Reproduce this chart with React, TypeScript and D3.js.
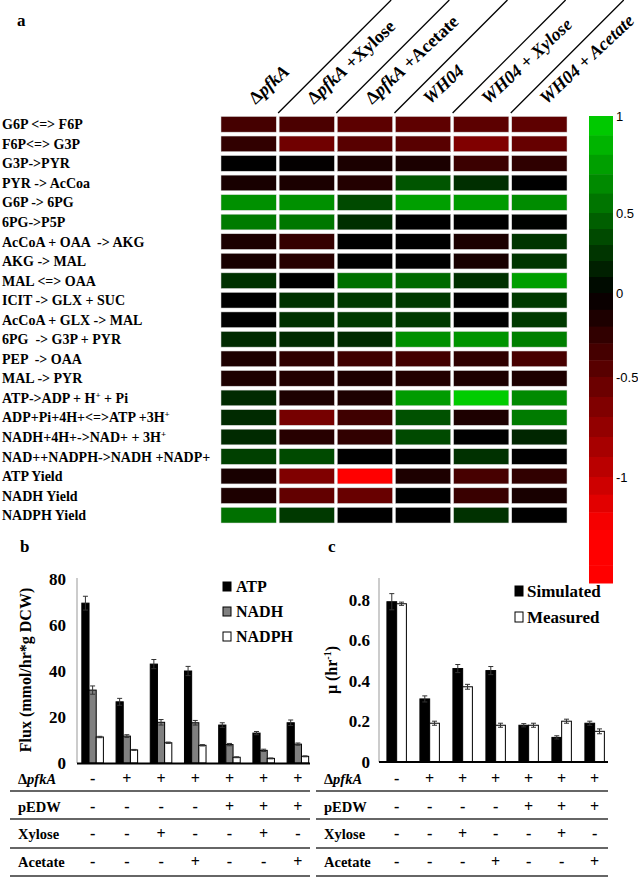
import * as d3 from 'd3';
import React from 'react';

const reactions = [
  'G6P <=> F6P',
  'F6P<=> G3P',
  'G3P->PYR',
  'PYR -> AcCoa',
  'G6P -> 6PG',
  '6PG->P5P',
  'AcCoA + OAA  -> AKG',
  'AKG -> MAL',
  'MAL <=> OAA',
  'ICIT -> GLX + SUC',
  'AcCoA + GLX -> MAL',
  '6PG  -> G3P + PYR',
  'PEP  -> OAA',
  'MAL -> PYR',
  'ATP->ADP + H⁺ + Pi',
  'ADP+Pi+4H+<=>ATP +3H⁺',
  'NADH+4H+->NAD+ + 3H⁺',
  'NAD++NADPH->NADH +NADP+',
  'ATP Yield',
  'NADH Yield',
  'NADPH Yield',
];

const conditions = ['ΔpfkA', 'ΔpfkA +Xylose', 'ΔpfkA +Acetate', 'WH04', 'WH04 + Xylose', 'WH04 + Acetate'];

// one row per reaction, one value per condition
const fluxChange = [
  [-0.35, -0.38, -0.47, -0.48, -0.47, -0.48],
  [-0.25, -0.57, -0.45, -0.45, -0.65, -0.52],
  [0, -0.02, -0.14, -0.14, -0.3, -0.24],
  [-0.12, -0.14, -0.18, 0.4, 0.22, 0],
  [0.68, 0.68, 0.35, 0.75, 0.73, 0.66],
  [0.58, 0.56, 0.22, 0, 0, 0.01],
  [-0.14, -0.27, 0, 0, -0.14, 0.25],
  [-0.12, -0.2, 0, 0, -0.12, 0.25],
  [0.23, 0, 0.53, 0.5, 0.23, 0.75],
  [0, 0.23, 0.27, 0.27, 0, 0.27],
  [0, 0.23, 0.27, 0.27, 0, 0.27],
  [0.2, 0.2, 0.2, 0.68, 0.7, 0.6],
  [-0.15, -0.24, -0.32, -0.34, -0.24, -0.36],
  [-0.15, -0.17, -0.15, -0.17, -0.15, -0.15],
  [0.2, -0.15, -0.15, 0.73, 0.96, 0.65],
  [0.2, -0.6, -0.32, 0.38, -0.15, 0.58],
  [0.2, -0.2, -0.25, 0.35, 0, 0.18],
  [0.3, 0.35, 0, 0, 0.23, 0],
  [-0.12, -0.65, -1.3, -0.15, -0.36, -0.25],
  [-0.15, -0.5, -0.53, 0, -0.29, -0.12],
  [0.53, 0.27, 0, 0, 0.23, 0],
];

const colorbarTicks = [1, 0.5, 0, -0.5, -1];

const strains = ['1', '2', '3', '4', '5', '6', '7'];

const atpFlux = [69.5, 26.6, 43, 40, 16.5, 13, 17.5];
const atpErr = [3, 1.5, 2, 2, 1, 0.7, 1.2];
const nadhFlux = [31.7, 11.7, 17.7, 17.5, 8, 5.5, 8.2];
const nadhErr = [1.8, 0.6, 1.2, 1, 0.5, 0.5, 0.5];
const nadphFlux = [11.3, 5.7, 8.8, 7.7, 2.5, 2, 2.9];
const nadphErr = [0.3, 0.2, 0.3, 0.3, 0.2, 0.2, 0.2];

const simulatedMu = [0.79, 0.31, 0.46, 0.45, 0.18, 0.12, 0.19];
const simulatedErr = [0.04, 0.015, 0.02, 0.02, 0.008, 0.008, 0.01];
const measuredMu = [0.78, 0.19, 0.37, 0.18, 0.18, 0.2, 0.15];
const measuredErr = [0.008, 0.01, 0.012, 0.01, 0.01, 0.01, 0.012];

const fluxTicks = [0, 20, 40, 60, 80];
const muTicks = [0, 0.2, 0.4, 0.6, 0.8];

const designRows = ['ΔpfkA', 'pEDW', 'Xylose', 'Acetate'];
const pfkASigns = ['-', '+', '+', '+', '+', '+', '+'];
const pEDWSigns = ['-', '-', '-', '-', '+', '+', '+'];
const xyloseSigns = ['-', '-', '+', '-', '-', '+', '-'];
const acetateSigns = ['-', '-', '-', '+', '-', '-', '+'];
const designSigns = [pfkASigns, pEDWSigns, xyloseSigns, acetateSigns];

const serif = '"Liberation Serif", "Times New Roman", serif';
const sans = '"Liberation Sans", Arial, sans-serif';

const heatColor = d3
  .scaleLinear<string>()
  .domain([-1.3, 0, 1])
  .range(['#ff0000', '#000000', '#00d400'])
  .clamp(true);

// splits on the superscript plus and raises it
const SupText = ({ text }) => {
  const parts = text.split('⁺');
  return (
    <>
      {parts.map((p, i) => (
        <React.Fragment key={i}>
          {p !== '' && <tspan dy={i > 0 ? 5 : 0}>{p}</tspan>}
          {i < parts.length - 1 && (
            <tspan fontSize={9} dy={-5}>
              +
            </tspan>
          )}
        </React.Fragment>
      ))}
    </>
  );
};

const ConditionLabel = ({ text }) => {
  if (text.startsWith('Δ')) {
    return (
      <>
        <tspan>Δ</tspan>
        <tspan fontStyle="italic">pfkA</tspan>
        <tspan>{text.slice(5)}</tspan>
      </>
    );
  }
  return <tspan fontStyle="italic">{text}</tspan>;
};

const StrainLabel = ({ text }) =>
  text === 'ΔpfkA' ? (
    <>
      <tspan>Δ</tspan>
      <tspan fontStyle="italic">pfkA</tspan>
    </>
  ) : (
    <tspan>{text}</tspan>
  );

const ErrorBar = ({ x, y0, y1, cap = 2.5 }) => (
  <g stroke="#333" strokeWidth={1}>
    <line x1={x} x2={x} y1={y0} y2={y1} />
    <line x1={x - cap} x2={x + cap} y1={y0} y2={y0} />
    <line x1={x - cap} x2={x + cap} y1={y1} y2={y1} />
  </g>
);

const DesignTable = ({ xScale, left, right }) => {
  const rowBase = [784, 812, 839, 867];
  const lineY = [791, 819, 848, 876];
  return (
    <g fontFamily={serif} fontWeight="bold">
      {designRows.map((r, i) => (
        <g key={r}>
          <text x={left + 8} y={rowBase[i]} fontSize={14.5}>
            <StrainLabel text={r} />
          </text>
          {designSigns[i].map((s, j) => (
            <text key={j} x={xScale(strains[j]) + xScale.bandwidth() / 2} y={rowBase[i]} fontSize={16} textAnchor="middle">
              {s}
            </text>
          ))}
          <line x1={left} x2={right} y1={lineY[i]} y2={lineY[i]} stroke="#333" strokeWidth={1.5} />
        </g>
      ))}
    </g>
  );
};

const App = () => {
  // ---------- panel a: heatmap ----------
  const xHeat = d3.scaleBand().domain(conditions).range([221, 567]).paddingInner(0.05);
  const yHeat = d3.scaleBand().domain(reactions).range([116.5, 523]).paddingInner(0.2);
  const yBar = d3.scaleLinear().domain([1, 0.5, 0, -0.5, -1, -1.6]).range([116, 213, 293, 377, 477, 583]);
  const barBands = d3.range(1, -1.6, -0.1);

  // ---------- panel b ----------
  const xB = d3.scaleBand().domain(strains).range([75, 315.5]).paddingInner(0.37).paddingOuter(0.2);
  const subB = d3.scaleBand().domain(['ATP', 'NADH', 'NADPH']).range([0, xB.bandwidth()]);
  const yB = d3.scaleLinear().domain([0, 80]).range([763, 579]);
  const seriesB = [
    { key: 'ATP', values: atpFlux, err: atpErr, fill: '#000' },
    { key: 'NADH', values: nadhFlux, err: nadhErr, fill: '#808080' },
    { key: 'NADPH', values: nadphFlux, err: nadphErr, fill: '#fff' },
  ];

  // ---------- panel c ----------
  const xC = d3.scaleBand().domain(strains).range([380, 611.3]).paddingInner(0.41).paddingOuter(0.21);
  const subC = d3.scaleBand().domain(['Simulated', 'Measured']).range([0, xC.bandwidth()]);
  const yC = d3.scaleLinear().domain([0, 0.8]).range([761.7, 599.7]);
  const seriesC = [
    { key: 'Simulated', values: simulatedMu, err: simulatedErr, fill: '#000' },
    { key: 'Measured', values: measuredMu, err: measuredErr, fill: '#fff' },
  ];

  return (
    <svg width={638} height={878} style={{ position: 'absolute', left: 0, top: 0, background: '#fff' }}>
      <text x={17} y={26} fontFamily={serif} fontWeight="bold" fontSize={17}>
        a
      </text>

      {/* column headers and diagonal separators */}
      {conditions.map((c) => {
        const cx = xHeat(c) + xHeat.bandwidth() / 2 + 7;
        return (
          <text key={c} transform={`translate(${cx},105) rotate(-43)`} fontFamily={serif} fontWeight="bold" fontSize={18}>
            <ConditionLabel text={c} />
          </text>
        );
      })}
      {conditions.slice(1).map((c) => {
        const x0 = xHeat(c) - 1;
        return <line key={c} x1={x0} y1={113} x2={x0 + 113} y2={0} stroke="#000" strokeWidth={1.3} />;
      })}

      {/* row labels */}
      {reactions.map((r) => (
        <text key={r} x={2} y={yHeat(r) + yHeat.bandwidth() / 2 + 5} fontFamily={serif} fontWeight="bold" fontSize={14} style={{ whiteSpace: 'pre' }}>
          <SupText text={r} />
        </text>
      ))}

      {/* cells */}
      {reactions.map((r, i) =>
        conditions.map((c, j) => (
          <rect
            key={`${i}-${j}`}
            x={xHeat(c)}
            y={yHeat(r)}
            width={xHeat.bandwidth()}
            height={yHeat.bandwidth()}
            fill={heatColor(fluxChange[i][j])}
            stroke="#d8d8d8"
            strokeWidth={0.5}
          />
        ))
      )}

      {/* colorbar */}
      {barBands.map((v, i) => {
        const top = yBar(v);
        const bottom = yBar(Math.max(v - 0.1, -1.6));
        return <rect key={i} x={589} y={top} width={24} height={bottom - top + 0.5} fill={heatColor(v - 0.05)} />;
      })}
      {colorbarTicks.map((t) => (
        <text key={t} x={616} y={yBar(t)} dy="0.35em" fontFamily={sans} fontSize={13}>
          {t}
        </text>
      ))}

      {/* ---------- panel b ---------- */}
      <text x={20} y={552} fontFamily={serif} fontWeight="bold" fontSize={17}>
        b
      </text>
      <line x1={77} x2={77} y1={578} y2={763} stroke="#999" strokeWidth={1} />
      {fluxTicks.map((t) => (
        <text key={t} x={66} y={yB(t)} dy="0.35em" textAnchor="end" fontFamily={serif} fontWeight="bold" fontSize={17}>
          {t}
        </text>
      ))}
      <text transform="translate(31,670) rotate(-90)" textAnchor="middle" fontFamily={serif} fontWeight="bold" fontSize={16}>
        Flux (mmol/hr*g DCW)
      </text>
      {seriesB.map((s) =>
        s.values.map((v, i) => {
          const x = xB(strains[i]) + subB(s.key);
          const w = subB.bandwidth();
          return (
            <g key={`${s.key}-${i}`}>
              <rect x={x} y={yB(v)} width={w} height={yB(0) - yB(v)} fill={s.fill} stroke="#000" strokeWidth={1} />
              <ErrorBar x={x + w / 2} y0={yB(v - s.err[i])} y1={yB(v + s.err[i])} />
            </g>
          );
        })
      )}
      <line x1={77} x2={310} y1={763.5} y2={763.5} stroke="#000" strokeWidth={2} />
      {seriesB.map((s, i) => (
        <g key={s.key}>
          <rect x={223} y={582 + i * 25} width={8} height={9} fill={s.fill} stroke="#000" strokeWidth={1} />
          <text x={236} y={592 + i * 25} fontFamily={serif} fontWeight="bold" fontSize={16}>
            {s.key}
          </text>
        </g>
      ))}
      <DesignTable xScale={xB} left={10} right={310} />

      {/* ---------- panel c ---------- */}
      <text x={328} y={552} fontFamily={serif} fontWeight="bold" fontSize={17}>
        c
      </text>
      <line x1={379} x2={379} y1={578} y2={762} stroke="#999" strokeWidth={1} />
      {muTicks.map((t) => (
        <text key={t} x={370} y={yC(t)} dy="0.35em" textAnchor="end" fontFamily={serif} fontWeight="bold" fontSize={17}>
          {t === 0 ? '0' : t.toFixed(1)}
        </text>
      ))}
      <text transform="translate(337,670) rotate(-90)" textAnchor="middle" fontFamily={serif} fontWeight="bold" fontSize={16}>
        μ (hr
        <tspan fontSize={10} dy={-6}>
          -1
        </tspan>
        <tspan dy={6}>)</tspan>
      </text>
      {seriesC.map((s) =>
        s.values.map((v, i) => {
          const x = xC(strains[i]) + subC(s.key);
          const w = subC.bandwidth();
          return (
            <g key={`${s.key}-${i}`}>
              <rect x={x} y={yC(v)} width={w} height={yC(0) - yC(v)} fill={s.fill} stroke="#000" strokeWidth={1} />
              <ErrorBar x={x + w / 2} y0={yC(v - s.err[i])} y1={yC(v + s.err[i])} />
            </g>
          );
        })
      )}
      <line x1={379} x2={608} y1={762} y2={762} stroke="#000" strokeWidth={2} />
      {seriesC.map((s, i) => (
        <g key={s.key}>
          <rect x={515} y={586 + i * 26} width={8} height={10} fill={s.fill} stroke="#000" strokeWidth={1} />
          <text x={527} y={597 + i * 26} fontFamily={serif} fontWeight="bold" fontSize={17}>
            {s.key}
          </text>
        </g>
      ))}
      <DesignTable xScale={xC} left={316} right={608} />
    </svg>
  );
};

export default App;
